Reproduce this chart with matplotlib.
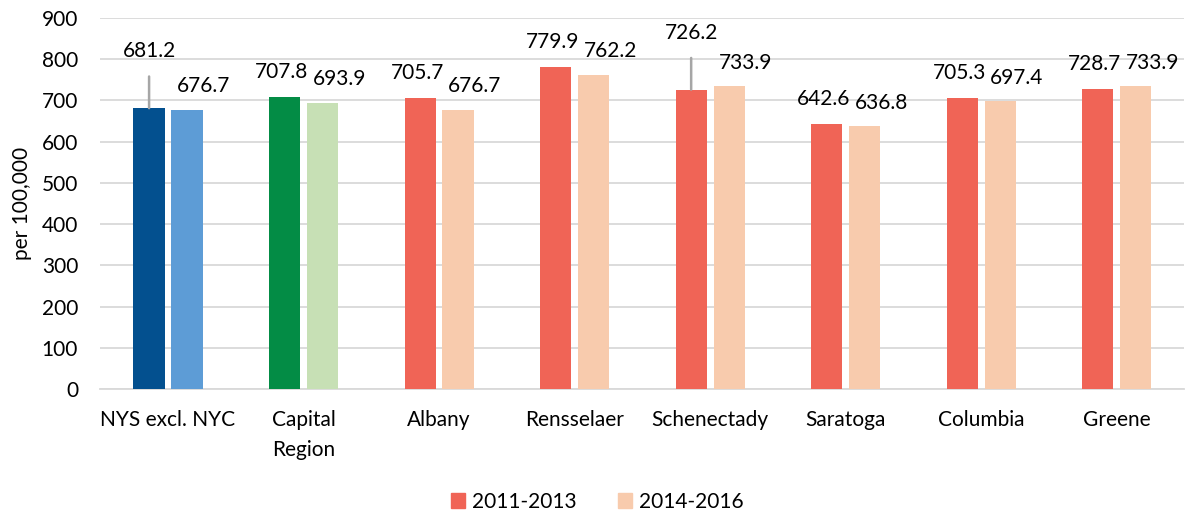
import numpy as np
import matplotlib
matplotlib.use("Agg")
import matplotlib.pyplot as plt
from matplotlib.patches import Patch

plt.rcParams['font.family'] = ['Lato', 'DejaVu Sans']

# data
categories = ["NYS excl. NYC", "Capital\nRegion", "Albany", "Rensselaer",
              "Schenectady", "Saratoga", "Columbia", "Greene"]
rate_2011_2013 = [681.2, 707.8, 705.7, 779.9, 726.2, 642.6, 705.3, 728.7]
rate_2014_2016 = [676.7, 693.9, 676.7, 762.2, 733.9, 636.8, 697.4, 733.9]
series_labels = ["2011-2013", "2014-2016"]

# colours: state, region, then counties
dark_colors = ["#03508F", "#038C45"] + ["#F06456"] * 6
light_colors = ["#5D9CD6", "#C7E0B5"] + ["#F8CBAD"] * 6

# labels pulled up with a leader line
leader_idx = [0, 4]

FS = 15

fig = plt.figure(figsize=(11.94, 5.12), dpi=100)
ax = fig.add_axes([0.084, 0.240, 0.908, 0.725])

x = np.arange(len(categories))
w = 0.23
off = 0.14
ax.bar(x - off, rate_2011_2013, width=w, color=dark_colors, zorder=3)
ax.bar(x + off, rate_2014_2016, width=w, color=light_colors, zorder=3)

for i in range(len(categories)):
    v1 = rate_2011_2013[i]
    v2 = rate_2014_2016[i]
    if i in leader_idx:
        ax.annotate(f"{v1:.1f}", xy=(x[i] - off, v1), xytext=(0, 41),
                    textcoords="offset points", ha="center", va="center",
                    fontsize=FS,
                    arrowprops=dict(arrowstyle="-", color="#A6A6A6", lw=1.8,
                                    shrinkA=9, shrinkB=0))
    else:
        ax.annotate(f"{v1:.1f}", xy=(x[i] - off, v1), xytext=(-2, 18),
                    textcoords="offset points", ha="center", va="center",
                    fontsize=FS)
    ax.annotate(f"{v2:.1f}", xy=(x[i] + off, v2), xytext=(12, 17),
                textcoords="offset points", ha="center", va="center",
                fontsize=FS)

ax.set_xlim(-0.5, len(categories) - 0.5)
ax.set_ylim(0, 900)
ax.set_yticks(np.arange(0, 901, 100))
ax.yaxis.grid(True, color="#D9D9D9", lw=1.3, zorder=0)
ax.set_axisbelow(True)
for s in ["top", "right", "left"]:
    ax.spines[s].set_visible(False)
ax.spines["bottom"].set_color("#D9D9D9")
ax.spines["bottom"].set_linewidth(1.3)
ax.tick_params(axis="both", length=0, labelsize=FS)
ax.tick_params(axis="y", pad=16)
ax.tick_params(axis="x", pad=15)
ax.set_xticks(x)
ax.set_xticklabels(categories, va="top", linespacing=1.6)
ax.set_ylabel("per 100,000", fontsize=FS, labelpad=7)

handles = [Patch(color="#F06456"), Patch(color="#F8CBAD")]
fig.legend(handles, series_labels, loc="center", bbox_to_anchor=(0.5, 0.02),
           ncol=2, frameon=False, fontsize=FS, handlelength=0.7,
           handleheight=0.7, handletextpad=0.3, columnspacing=2.0)

fig.savefig("out.png", dpi=100)
